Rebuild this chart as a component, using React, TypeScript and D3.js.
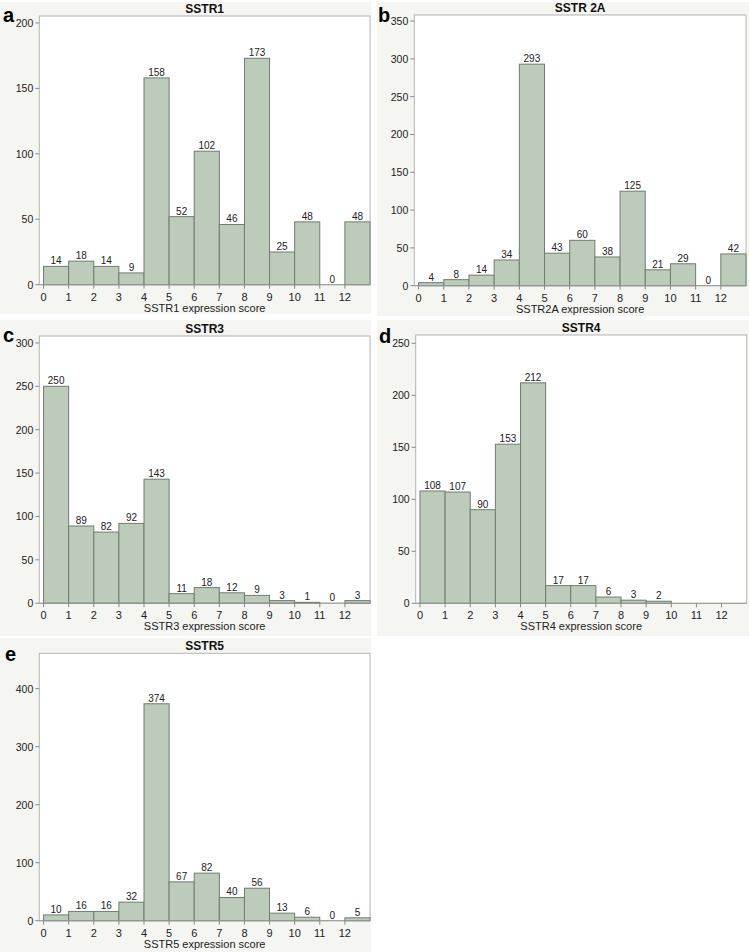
import React from "react";
import * as d3 from "d3";

const bins = [0, 1, 2, 3, 4, 5, 6, 7, 8, 9, 10, 11, 12];
const xTicks = [0, 1, 2, 3, 4, 5, 6, 7, 8, 9, 10, 11, 12];

const sstr1 = [14, 18, 14, 9, 158, 52, 102, 46, 173, 25, 48, 0, 48];
const sstr2a = [4, 8, 14, 34, 293, 43, 60, 38, 125, 21, 29, 0, 42];
const sstr3 = [250, 89, 82, 92, 143, 11, 18, 12, 9, 3, 1, 0, 3];
const sstr4: (number | null)[] = [108, 107, 90, 153, 212, 17, 17, 6, 3, 2, null, null, null];
const sstr5 = [10, 16, 16, 32, 374, 67, 82, 40, 56, 13, 6, 0, 5];

const ticks1 = [0, 50, 100, 150, 200];
const ticks2a = [0, 50, 100, 150, 200, 250, 300, 350];
const ticks3 = [0, 50, 100, 150, 200, 250, 300];
const ticks4 = [0, 50, 100, 150, 200, 250];
const ticks5 = [0, 100, 200, 300, 400];

const FONT = "'Liberation Sans', Arial, Helvetica, sans-serif";
const BAR_FILL = "#bccbba";
const BAR_STROKE = "#6f7d6e";
const PANEL_BG = "#f5f5f1";
const FRAME = "#b4b4b4";

type PanelProps = {
  letter: string;
  title: string;
  xTitle: string;
  values: (number | null)[];
  yTicks: number[];
  yMax: number;
  bg: [number, number, number, number];
  left: number;
  right: number;
  top: number;
  y0: number;
  letterX: number;
  letterY: number;
};

function Panel(p: PanelProps) {
  const x = d3.scaleLinear().domain([-0.17, 13]).range([p.left, p.right]);
  const y = d3.scaleLinear().domain([0, p.yMax]).range([p.y0, p.top]);
  const [bx, by, bw, bh] = p.bg;
  return (
    <g>
      <rect x={bx} y={by} width={bw} height={bh} fill={PANEL_BG} />
      <rect x={p.left} y={p.top} width={p.right - p.left} height={p.y0 - p.top} fill="#ffffff" stroke={FRAME} strokeWidth={1} />
      <text x={(p.left + p.right) / 2} y={p.top - 3} textAnchor="middle" fontFamily={FONT} fontWeight="bold" fontSize={12} fill="#111">
        {p.title}
      </text>
      <text x={p.letterX} y={p.letterY} fontFamily={FONT} fontWeight="bold" fontSize={20} fill="#000">
        {p.letter}
      </text>
      {p.yTicks.map((t) => (
        <g key={"y" + t}>
          <line x1={p.left - 4} x2={p.left} y1={y(t)} y2={y(t)} stroke="#888" />
          <text x={p.left - 6} y={y(t) + 4} textAnchor="end" fontFamily={FONT} fontSize={10.5} fill="#222">
            {t}
          </text>
        </g>
      ))}
      {bins.map((b, i) => {
        const v = p.values[i];
        if (v === null) return null;
        const x1 = x(b);
        const x2 = Math.min(x(b + 1), p.right);
        return (
          <g key={"b" + i}>
            {v > 0 && (
              <rect x={x1} y={y(v)} width={x2 - x1} height={p.y0 - y(v)} fill={BAR_FILL} stroke={BAR_STROKE} strokeWidth={1} />
            )}
            <text x={(x(b) + x(b + 1)) / 2} y={y(v) - 2} textAnchor="middle" fontFamily={FONT} fontSize={10} fill="#222">
              {v}
            </text>
          </g>
        );
      })}
      <line x1={p.left} x2={p.right} y1={p.y0} y2={p.y0} stroke="#999" />
      {xTicks.map((t) => (
        <g key={"x" + t}>
          <line x1={x(t)} x2={x(t)} y1={p.y0} y2={p.y0 + 4} stroke="#888" />
          <text x={x(t)} y={p.y0 + 16} textAnchor="middle" fontFamily={FONT} fontSize={11} fill="#222">
            {t}
          </text>
        </g>
      ))}
      <text x={(p.left + p.right) / 2} y={p.y0 + 27} textAnchor="middle" fontFamily={FONT} fontSize={11} fill="#222">
        {p.xTitle}
      </text>
    </g>
  );
}

export default function App() {
  return (
    <svg width={749} height={952} style={{ position: "absolute", left: 0, top: 0, background: "#fff" }}>
      <Panel letter="a" title="SSTR1" xTitle="SSTR1 expression score" values={sstr1} yTicks={ticks1} yMax={205.3}
        bg={[0, 2, 371, 312]} left={39.3} right={370} top={16} y0={284.7} letterX={3} letterY={22} />
      <Panel letter="b" title="SSTR 2A" xTitle="SSTR2A expression score" values={sstr2a} yTicks={ticks2a} yMax={358}
        bg={[377, 2, 372, 314]} left={414.3} right={746} top={15} y0={285.7} letterX={378} letterY={22} />
      <Panel letter="c" title="SSTR3" xTitle="SSTR3 expression score" values={sstr3} yTicks={ticks3} yMax={308}
        bg={[0, 320, 371, 316]} left={39.3} right={370} top={336} y0={603.2} letterX={3} letterY={342} />
      <Panel letter="d" title="SSTR4" xTitle="SSTR4 expression score" values={sstr4} yTicks={ticks4} yMax={258}
        bg={[377, 320, 372, 316]} left={415.7} right={746.7} top={335} y0={603.3} letterX={379} letterY={343} />
      <Panel letter="e" title="SSTR5" xTitle="SSTR5 expression score" values={sstr5} yTicks={ticks5} yMax={461}
        bg={[0, 638, 371, 314]} left={39.3} right={370} top={653.3} y0={920.7} letterX={5} letterY={661} />
    </svg>
  );
}
